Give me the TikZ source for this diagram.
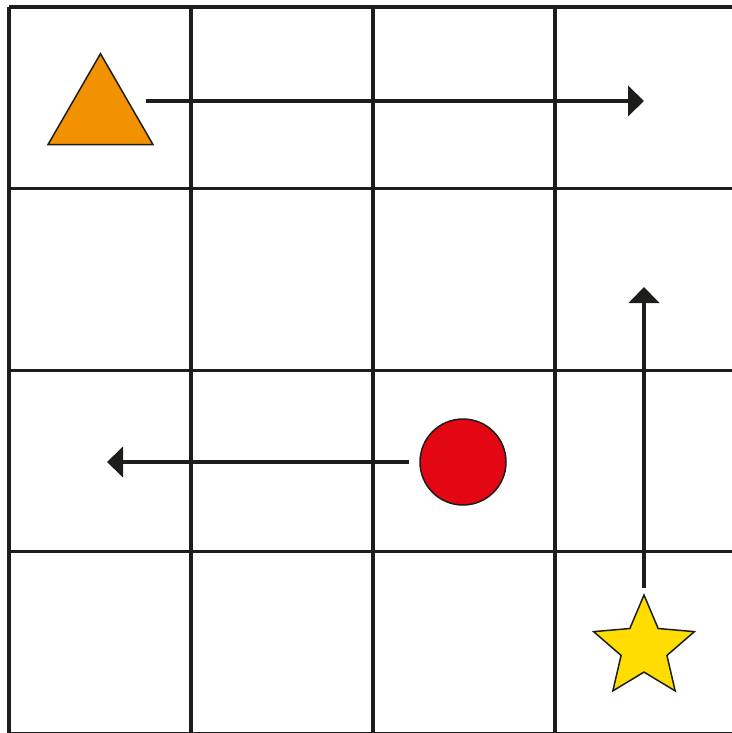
\documentclass[tikz,border=0pt]{standalone}
\usepackage{tikz}
\usetikzlibrary{shapes.geometric, arrows.meta, positioning}
\usepackage{xcolor}
\definecolor{inkdark}{RGB}{29,29,27}
\definecolor{markorange}{RGB}{243,146,0}
\definecolor{markred}{RGB}{227,6,19}
\definecolor{markyellow}{RGB}{255,221,0}
\tikzset{
  gridline/.style={draw=inkdark, line width=1.6pt},
  basemark/.style={draw=inkdark, line width=0.75pt, inner sep=0pt, outer sep=0pt},
  trimark/.style={basemark, regular polygon, regular polygon sides=3, minimum size=60.6pt, fill=markorange},
  dotmark/.style={basemark, circle, minimum size=43pt, fill=markred},
  starmark/.style={basemark, star, star points=5, star point ratio=2.2, minimum size=53pt, fill=markyellow},
  movearrow/.style={-{Triangle[length=8pt,width=15pt]}, line width=2pt, color=inkdark}
}

\begin{document}
\begin{tikzpicture}[x=0.5pt, y=-0.5pt]
  \useasboundingbox (0,0) rectangle (732,733);
  \clip (0,0) rectangle (732,733);
  % grid
  \foreach \i in {0,...,4} {
    \draw[gridline] (9+182*\i,7) -- (9+182*\i,740);
    \draw[gridline] (9,7+181.6*\i) -- (740,7+181.6*\i);
  }
  % pieces
  \node[trimark] (tri) at (100.5,114.3) {};
  \node[dotmark] (dot) at (463,462) {};
  \node[starmark] (star) at (644,648) {};
  % moves
  \coordinate (triend) at (644,101);
  \coordinate (dotend) at (107,462);
  \coordinate (starend) at (644,287);
  \draw[movearrow] (146,101) -- (triend);
  \draw[movearrow] ([xshift=-5.5pt]dot.west) -- (dotend);
  \draw[movearrow] ([yshift=3.5pt]star.north) -- (starend);
\end{tikzpicture}
\end{document}
